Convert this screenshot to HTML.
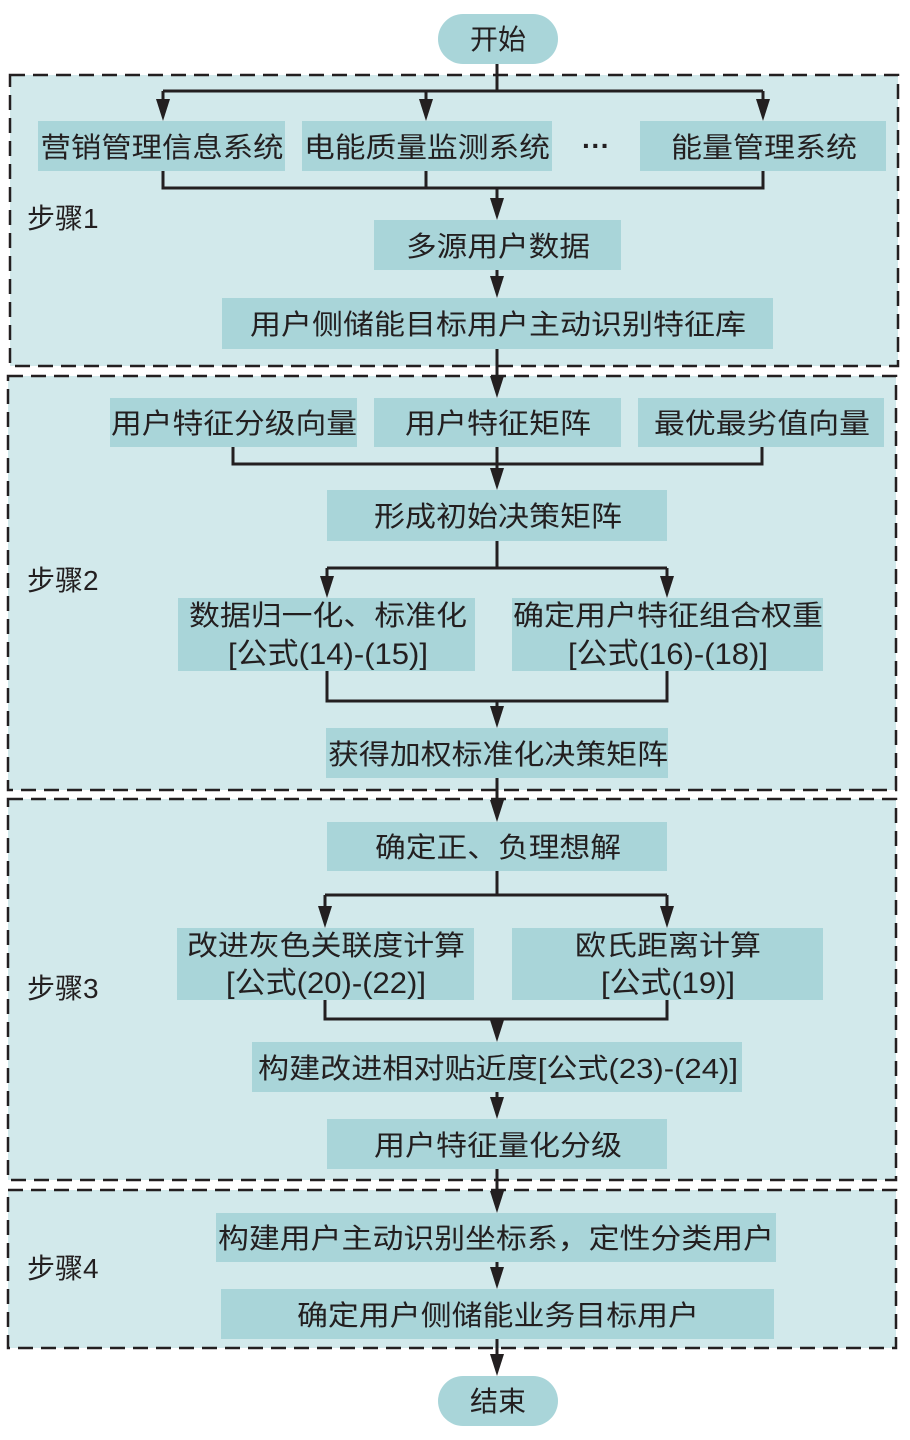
<!DOCTYPE html>
<html><head><meta charset="utf-8"><style>
html,body{margin:0;padding:0;background:#fff;}
svg{display:block;}
text{font-family:"Liberation Sans","Noto Sans CJK SC",sans-serif;font-size:28px;fill:#231f20;}
.f{font-size:30px;}
</style></head><body>
<svg width="910" height="1440" viewBox="0 0 910 1440" xmlns="http://www.w3.org/2000/svg">
<g fill="#d2e9eb" stroke="#231f20" stroke-width="2.5" stroke-dasharray="15 8">
<rect x="10" y="75" width="888" height="291"/>
<rect x="8" y="376" width="888" height="414"/>
<rect x="8" y="799" width="888" height="381"/>
<rect x="8" y="1190" width="888" height="158"/>
</g>
<g fill="#a9d5d9">
<rect x="438" y="14" width="120" height="50" rx="25"/>
<rect x="438" y="1376" width="120" height="50" rx="25"/>
</g>
<g fill="#a9d5d9">
<rect x="38" y="121" width="247" height="50"/>
<rect x="302" y="121" width="250" height="50"/>
<rect x="640" y="121" width="246" height="50"/>
<rect x="374" y="220" width="247" height="50"/>
<rect x="222" y="298" width="551" height="51"/>
<rect x="110" y="398" width="247" height="49"/>
<rect x="374" y="398" width="247" height="49"/>
<rect x="638" y="398" width="246" height="49"/>
<rect x="327" y="490" width="340" height="51"/>
<rect x="178" y="598" width="297" height="73"/>
<rect x="512" y="598" width="311" height="73"/>
<rect x="326" y="728" width="342" height="50"/>
<rect x="327" y="822" width="340" height="49"/>
<rect x="177" y="928" width="297" height="72"/>
<rect x="512" y="928" width="311" height="72"/>
<rect x="252" y="1042" width="490" height="50"/>
<rect x="327" y="1119" width="340" height="50"/>
<rect x="216" y="1213" width="560" height="49"/>
<rect x="221" y="1289" width="553" height="50"/>
</g>
<g stroke="#231f20" stroke-width="3" fill="none">
<path d="M497 64V91M163 91H763M163 91V104M426 91V104M763 91V104"/>
<path d="M163 171V188H763V171M426 171V188M497 188V203"/>
<path d="M497 270V281"/>
<path d="M497 349V381"/>
<path d="M233 447V464H762V447M497 447V473"/>
<path d="M497 541V568M327 568H667M327 568V581M667 568V581"/>
<path d="M327 671V701H667V671M497 701V711"/>
<path d="M497 778V805"/>
<path d="M497 871V895M325 895H667M325 895V911M667 895V911"/>
<path d="M325 1000V1019H667V1000M497 1019V1025"/>
<path d="M497 1092V1102"/>
<path d="M497 1169V1196"/>
<path d="M497 1262V1272"/>
<path d="M497 1339V1359"/>
</g>
<g fill="#231f20">
<path d="M156 99H170L163 121Z"/><path d="M419 99H433L426 121Z"/><path d="M756 99H770L763 121Z"/>
<path d="M490 198H504L497 220Z"/>
<path d="M490 276H504L497 298Z"/>
<path d="M490 376H504L497 398Z"/>
<path d="M490 468H504L497 490Z"/>
<path d="M320 576H334L327 598Z"/><path d="M660 576H674L667 598Z"/>
<path d="M490 706H504L497 728Z"/>
<path d="M490 800H504L497 822Z"/>
<path d="M318 906H332L325 928Z"/><path d="M660 906H674L667 928Z"/>
<path d="M490 1020H504L497 1042Z"/>
<path d="M490 1097H504L497 1119Z"/>
<path d="M490 1191H504L497 1213Z"/>
<path d="M490 1267H504L497 1289Z"/>
<path d="M490 1354H504L497 1376Z"/>
</g>
<g text-anchor="middle">
<text x="498" y="49">开始</text>
<text x="498" y="1411">结束</text>
<text x="162" y="157" textLength="243" lengthAdjust="spacingAndGlyphs">营销管理信息系统</text>
<text x="427" y="157" textLength="246" lengthAdjust="spacingAndGlyphs">电能质量监测系统</text>
<text x="596" y="155" font-weight="bold">···</text>
<text x="764" y="157" textLength="186" lengthAdjust="spacingAndGlyphs">能量管理系统</text>
<text x="498" y="256" textLength="184" lengthAdjust="spacingAndGlyphs">多源用户数据</text>
<text x="498" y="334" textLength="496" lengthAdjust="spacingAndGlyphs">用户侧储能目标用户主动识别特征库</text>
<text x="234" y="433" textLength="246" lengthAdjust="spacingAndGlyphs">用户特征分级向量</text>
<text x="498" y="433" textLength="186" lengthAdjust="spacingAndGlyphs">用户特征矩阵</text>
<text x="762" y="433" textLength="216" lengthAdjust="spacingAndGlyphs">最优最劣值向量</text>
<text x="498" y="526" textLength="248" lengthAdjust="spacingAndGlyphs">形成初始决策矩阵</text>
<text x="328" y="625" textLength="278" lengthAdjust="spacingAndGlyphs">数据归一化、标准化</text>
<text class="f" x="328" y="664" textLength="200" lengthAdjust="spacingAndGlyphs">[公式(14)-(15)]</text>
<text x="668" y="625" textLength="310" lengthAdjust="spacingAndGlyphs">确定用户特征组合权重</text>
<text class="f" x="668" y="664" textLength="200" lengthAdjust="spacingAndGlyphs">[公式(16)-(18)]</text>
<text x="498" y="764" textLength="340" lengthAdjust="spacingAndGlyphs">获得加权标准化决策矩阵</text>
<text x="498" y="857" textLength="246" lengthAdjust="spacingAndGlyphs">确定正、负理想解</text>
<text x="326" y="955" textLength="278" lengthAdjust="spacingAndGlyphs">改进灰色关联度计算</text>
<text class="f" x="326" y="993" textLength="200" lengthAdjust="spacingAndGlyphs">[公式(20)-(22)]</text>
<text x="668" y="955" textLength="186" lengthAdjust="spacingAndGlyphs">欧氏距离计算</text>
<text class="f" x="668" y="993" textLength="134" lengthAdjust="spacingAndGlyphs">[公式(19)]</text>
<text x="498" y="1078" textLength="480" lengthAdjust="spacingAndGlyphs">构建改进相对贴近度[公式(23)-(24)]</text>
<text x="498" y="1155" textLength="248" lengthAdjust="spacingAndGlyphs">用户特征量化分级</text>
<text x="496" y="1248" textLength="556" lengthAdjust="spacingAndGlyphs">构建用户主动识别坐标系，定性分类用户</text>
<text x="498" y="1325" textLength="402" lengthAdjust="spacingAndGlyphs">确定用户侧储能业务目标用户</text>
</g>
<g>
<text x="27" y="228">步骤1</text>
<text x="27" y="590">步骤2</text>
<text x="27" y="998">步骤3</text>
<text x="27" y="1278">步骤4</text>
</g>
</svg>
</body></html>
